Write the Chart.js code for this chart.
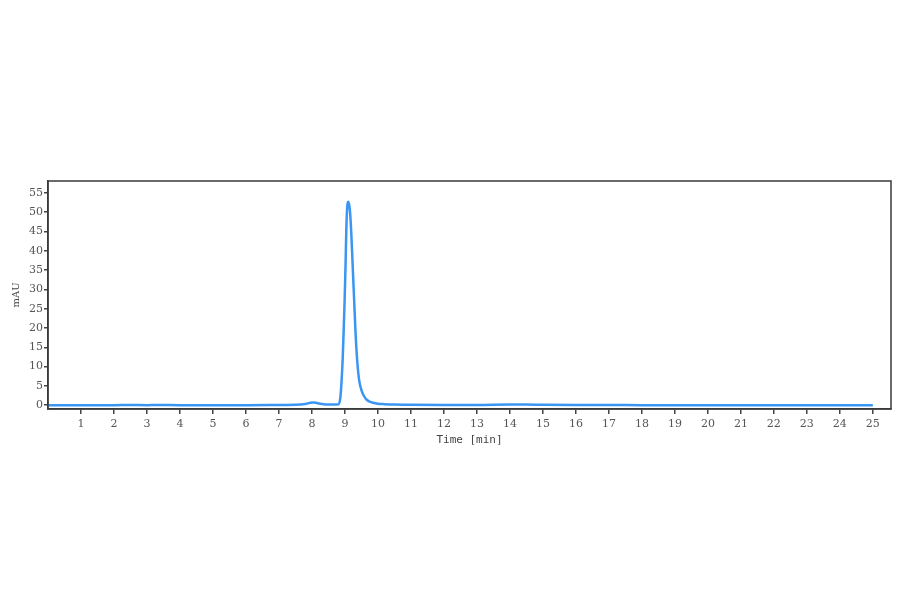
<!DOCTYPE html>
<html>
<head>
<meta charset="utf-8">
<script src="https://cdn.jsdelivr.net/npm/chart.js@4"></script>
<style>
	html, body { margin: 0; padding: 0; background: #fff; }
	#wrap { width: 900px; height: 594px; }
</style>
</head>
<body>
<div id="wrap"><canvas id="chart"></canvas></div>
<script>
// retention time [min] and absorbance [mAU]
const times = [
	0, 1, 2, 2.5, 3, 3.3, 4, 5, 6, 7, 7.5, 7.8, 7.95, 8.05, 8.15, 8.3, 8.5, 8.7,
	8.8, 8.85, 8.88, 8.93, 8.96, 8.99, 9.02, 9.04, 9.06, 9.08, 9.1, 9.12, 9.15,
	9.19, 9.23, 9.28, 9.32, 9.37, 9.43, 9.5, 9.58, 9.66, 9.75, 9.85, 10.0, 10.2,
	10.5, 11, 12, 13, 14, 14.5, 15, 16, 17, 18, 20, 22, 24, 25,
];
const absorbance = [
	0, 0, 0, 0.05, 0, 0.05, 0, 0, 0, 0.05, 0.1, 0.3, 0.6, 0.7, 0.55, 0.3, 0.15, 0.15,
	0.2, 1.3, 3.9, 11.7, 19, 27, 37, 45, 50, 52.3, 52.7, 52.2, 50.5,
	45, 37, 27, 19, 11.7, 6.5, 3.9, 2.3, 1.4, 0.9, 0.6, 0.35, 0.25,
	0.15, 0.1, 0.05, 0.05, 0.15, 0.15, 0.1, 0.05, 0.05, 0, 0, 0, 0, 0,
];
const xTicks = [1, 2, 3, 4, 5, 6, 7, 8, 9, 10, 11, 12, 13, 14, 15, 16, 17, 18, 19, 20, 21, 22, 23, 24, 25];
const yTicks = [0, 5, 10, 15, 20, 25, 30, 35, 40, 45, 50, 55];

const frame = {
	id: 'frame',
	afterDatasetsDraw(chart) {
		const { ctx, chartArea: a } = chart;
		ctx.save();
		ctx.strokeStyle = '#3a3a3a';
		ctx.lineWidth = 1.5;
		ctx.strokeRect(a.left, a.top, a.right - a.left, a.bottom - a.top);
		ctx.restore();
	},
};

const tickFont = { family: '"DejaVu Serif", "Liberation Serif", serif', size: 11 };
const titleFont = { family: '"DejaVu Sans Mono", monospace', size: 11 };

new Chart(document.getElementById('chart'), {
	type: 'line',
	data: {
		datasets: [
			{
				data: times.map((t, i) => ({ x: t, y: absorbance[i] })),
				borderColor: 'rgb(58, 150, 242)',
				borderWidth: 2.5,
				pointRadius: 0,
				cubicInterpolationMode: 'monotone',
				fill: false,
			},
		],
	},
	options: {
		responsive: true,
		maintainAspectRatio: false,
		animation: false,
		layout: { padding: { left: 0, top: 181, right: 9, bottom: 145 } },
		plugins: { legend: { display: false }, tooltip: { enabled: false } },
		scales: {
			x: {
				type: 'linear',
				min: 0,
				max: 25.55,
				afterBuildTicks: (s) => { s.ticks = xTicks.map((v) => ({ value: v })); },
				afterFit: (s) => { s.height = 40; },
				grid: { drawOnChartArea: false, drawTicks: true, tickLength: 5, color: '#444', lineWidth: 1.5 },
				border: { display: true, color: '#3a3a3a', width: 1.5 },
				ticks: { color: '#555', font: tickFont, padding: 4, maxRotation: 0, autoSkip: false },
				title: { display: true, text: 'Time [min]', color: '#444', font: titleFont, padding: { top: 0, bottom: 2 } },
			},
			y: {
				min: -1,
				max: 58.1,
				afterBuildTicks: (s) => { s.ticks = yTicks.map((v) => ({ value: v })); },
				afterFit: (s) => { s.width = 48; },
				grid: { drawOnChartArea: false, drawTicks: true, tickLength: 4, color: '#444', lineWidth: 1.5 },
				border: { display: true, color: '#3a3a3a', width: 1.5 },
				ticks: { color: '#555', font: tickFont, padding: 1, autoSkip: false },
				title: { display: true, text: 'mAU', color: '#444', font: { family: '"DejaVu Serif", serif', size: 10 }, padding: { top: 10, bottom: 0 } },
			},
		},
	},
	plugins: [frame],
});
</script>
</body>
</html>
